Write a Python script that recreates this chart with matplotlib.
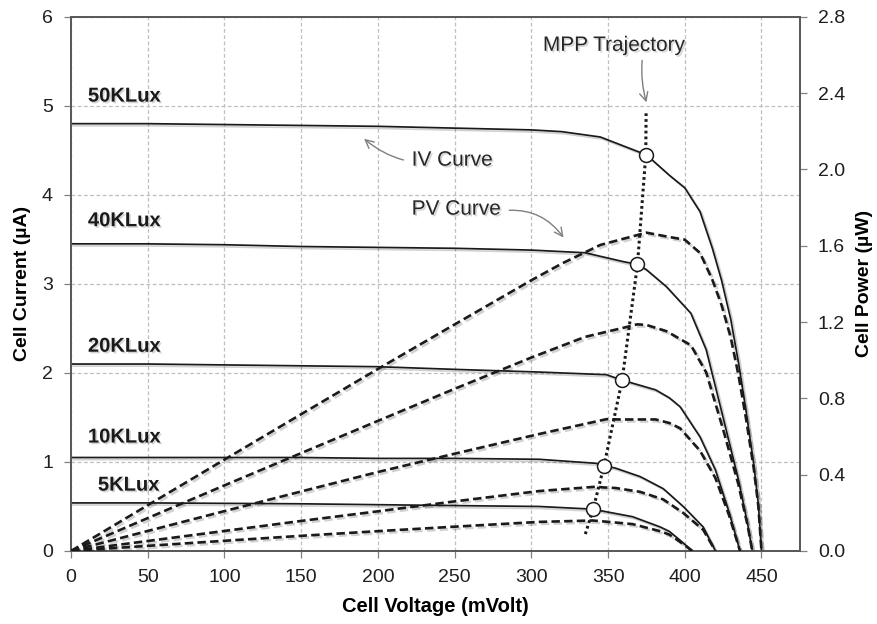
import matplotlib.pyplot as plt
import matplotlib.patheffects as pe
import numpy as np

plt.rcParams['font.family'] = ['Liberation Sans', 'DejaVu Sans']

# IV curves: cell voltage (mV) vs cell current (uA)
v_50k = [0, 50, 100, 150, 200, 250, 300, 320, 345, 375, 390, 400, 410, 418, 424, 430, 435, 440, 445, 448, 450]
i_50k = [4.80, 4.80, 4.79, 4.78, 4.77, 4.75, 4.73, 4.71, 4.65, 4.45, 4.22, 4.08, 3.81, 3.40, 3.04, 2.60, 2.12, 1.57, 0.97, 0.52, 0]

v_40k = [0, 50, 100, 150, 200, 250, 300, 335, 360, 369, 375, 388, 404, 414, 425, 435, 441, 444]
i_40k = [3.45, 3.45, 3.44, 3.42, 3.41, 3.40, 3.38, 3.35, 3.25, 3.22, 3.16, 2.97, 2.67, 2.26, 1.50, 0.80, 0.30, 0]

v_20k = [0, 50, 100, 150, 200, 250, 305, 349, 359, 381, 390, 397, 410, 420, 429, 436]
i_20k = [2.10, 2.10, 2.09, 2.08, 2.07, 2.04, 2.01, 1.98, 1.92, 1.81, 1.72, 1.62, 1.28, 0.91, 0.43, 0]

v_10k = [0, 50, 100, 150, 200, 250, 305, 342, 347, 355, 371, 386, 399, 412, 420]
i_10k = [1.05, 1.05, 1.05, 1.05, 1.04, 1.04, 1.03, 0.985, 0.96, 0.93, 0.835, 0.70, 0.50, 0.27, 0]

v_5k = [0, 50, 100, 150, 200, 250, 305, 340, 349, 366, 384, 390, 397, 405]
i_5k = [0.54, 0.54, 0.535, 0.53, 0.52, 0.51, 0.50, 0.47, 0.44, 0.385, 0.27, 0.22, 0.12, 0]

curves_v = [v_50k, v_40k, v_20k, v_10k, v_5k]
curves_i = [i_50k, i_40k, i_20k, i_10k, i_5k]

# maximum power points
mpp_v = [374.6, 369.2, 359.2, 347.4, 340.3]
mpp_i = [4.45, 3.22, 1.92, 0.96, 0.47]

# MPP trajectory
traj_v = [335.2, 340.3, 347.4, 359.2, 369.2, 374.6, 374.8]
traj_i = [0.19, 0.47, 0.96, 1.92, 3.22, 4.45, 4.92]

# curve labels
lux_labels = ['50KLux', '40KLux', '20KLux', '10KLux', '5KLux']
lux_v = [11, 11, 11, 11, 17.5]
lux_i = [5.11, 3.71, 2.30, 1.28, 0.74]

x_ticks = [0, 50, 100, 150, 200, 250, 300, 350, 400, 450]
y_ticks = [0, 1, 2, 3, 4, 5, 6]
p_ticks = [0.0, 0.4, 0.8, 1.2, 1.6, 2.0, 2.4, 2.8]

fig = plt.figure(figsize=(8.77, 6.24), dpi=100)
ax = fig.add_axes([0.081, 0.117, 0.831, 0.856])
ax2 = ax.twinx()

shadow = [pe.SimpleLineShadow(offset=(1.5, -1.5), alpha=0.18), pe.Normal()]
txt_shadow = [pe.withSimplePatchShadow(offset=(1.2, -1.2), shadow_rgbFace='#888888', alpha=0.35)]

for v, i in zip(curves_v, curves_i):
    ax.plot(v, i, color='#1a1a1a', lw=1.25, path_effects=shadow, zorder=3)
    p = np.array(v) * np.array(i) / 1000.0
    ax2.plot(v, p, color='#1a1a1a', lw=1.9, dashes=(3.2, 1.6), path_effects=shadow, zorder=3)

ax2.plot(traj_v, traj_i, transform=ax.transData, color='#1a1a1a', lw=2.2,
         linestyle=(0, (0.9, 1.0)), zorder=4)
ax2.plot(mpp_v, mpp_i, transform=ax.transData, linestyle='none', marker='o', ms=10,
         mfc='white', mec='#1a1a1a', mew=1.1, zorder=5)

for lab, x, y in zip(lux_labels, lux_v, lux_i):
    ax.text(x, y, lab, fontsize=14.5, fontweight='bold', color='#1a1a1a',
            ha='left', va='center', path_effects=txt_shadow)

arrow_kw = dict(arrowstyle='->', color='#7f7f7f', lw=1.0)
ax.annotate('IV Curve', xy=(191, 4.63), xytext=(222, 4.39), fontsize=15, color='#262626',
            va='center', ha='left', path_effects=txt_shadow,
            arrowprops=dict(connectionstyle='arc3,rad=-0.25', shrinkA=4, shrinkB=0, **arrow_kw))
ax.annotate('PV Curve', xy=(321, 3.52), xytext=(222, 3.84), fontsize=15, color='#262626',
            va='center', ha='left', path_effects=txt_shadow,
            arrowprops=dict(connectionstyle='arc3,rad=-0.3', shrinkA=4, shrinkB=0,
                            relpos=(1.0, 0.4), **arrow_kw))
ax.annotate('MPP Trajectory', xy=(375, 5.04), xytext=(354, 5.68), fontsize=15, color='#262626',
            va='center', ha='center', path_effects=txt_shadow,
            arrowprops=dict(connectionstyle='arc3,rad=0.1', shrinkA=2, shrinkB=0,
                            relpos=(0.7, 0.0), **arrow_kw))

ax.set_xlim(0, 475)
ax.set_ylim(0, 6)
ax2.set_ylim(0, 2.8)
ax.set_xticks(x_ticks)
ax.set_yticks(y_ticks)
ax2.set_yticks(p_ticks)
ax2.set_yticklabels(['%.1f' % t for t in p_ticks])

ax.grid(True, color='#bfbfbf', linestyle=(0, (3, 2)), lw=0.9)
ax.set_axisbelow(True)

for a in (ax, ax2):
    for s in a.spines.values():
        s.set_color('#595959')
        s.set_linewidth(1.3)
    a.tick_params(colors='#808080', labelcolor='#1f1f1f', labelsize=14, length=5, width=0.9, pad=8)

ax.set_xlabel('Cell Voltage (mVolt)', fontsize=14.5, fontweight='bold', labelpad=8)
ax.set_ylabel('Cell Current (µA)', fontsize=14, fontweight='bold', labelpad=8)
ax2.set_ylabel('Cell Power (µW)', fontsize=14, fontweight='bold', labelpad=8)

fig.savefig('out.png', dpi=100)
